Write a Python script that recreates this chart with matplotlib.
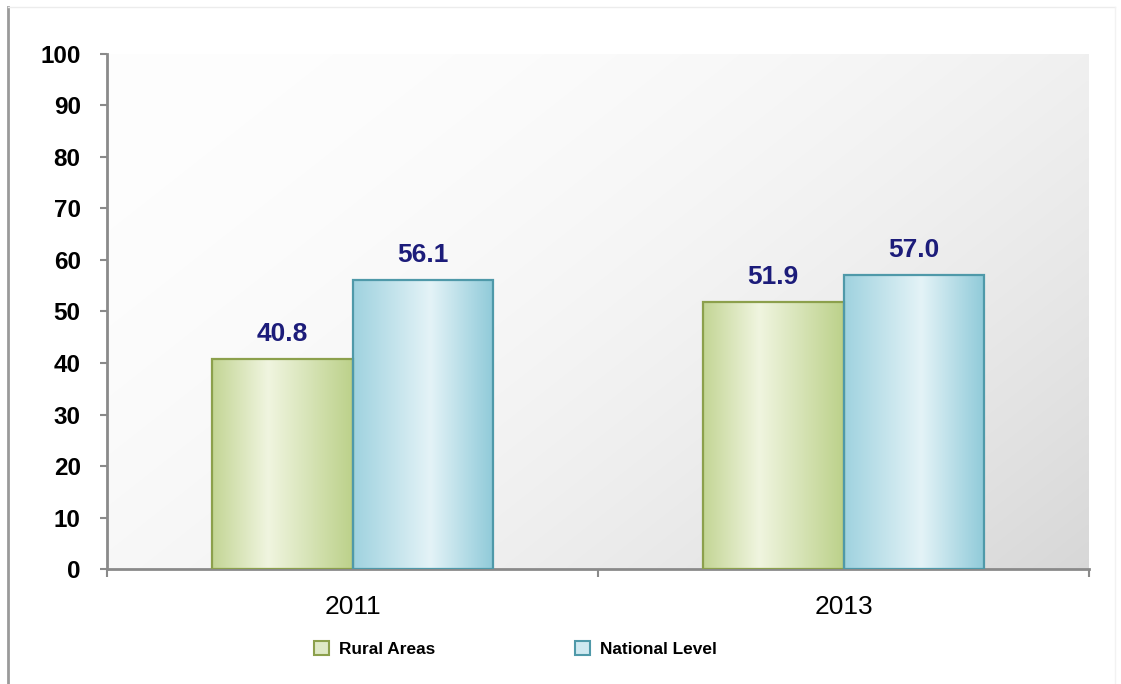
import matplotlib.pyplot as plt
import numpy as np
from matplotlib.colors import LinearSegmentedColormap
from matplotlib.patches import Patch
from matplotlib.lines import Line2D

plt.rcParams['font.family'] = ['Liberation Sans', 'DejaVu Sans']

years = ['2011', '2013']
rural = [40.8, 51.9]
national = [56.1, 57.0]
series_names = ['Rural Areas', 'National Level']

green_cmap = LinearSegmentedColormap.from_list(
    'green_bar', [(0, '#c3d594'), (0.4, '#f0f5e0'), (1, '#bcd18a')])
blue_cmap = LinearSegmentedColormap.from_list(
    'blue_bar', [(0, '#9fd2df'), (0.55, '#e4f3f7'), (1, '#8fcad9')])

fig = plt.figure(figsize=(11.21, 6.84), dpi=100)
ax = fig.add_axes([0.0955, 0.1681, 0.8760, 0.7530])

x = np.arange(len(years))
width = 0.286

# plot background: near white top-left, darkening towards bottom-right
# (rows run top to bottom with origin='upper')
gx, gy = np.meshgrid(np.linspace(0, 1, 300), np.linspace(0, 1, 200))
shade = (gx * 0.6 + gy * 0.4) ** 2
bg = 0.995 - 0.15 * shade
ax.imshow(np.dstack([bg, bg, bg]), extent=[-0.5, 1.5, 0, 100],
          origin='upper', aspect='auto', zorder=0, interpolation='bilinear')

bars_r = ax.bar(x - width / 2, rural, width, facecolor='none',
                edgecolor='#8ca04c', linewidth=1.6, zorder=3)
bars_n = ax.bar(x + width / 2, national, width, facecolor='none',
                edgecolor='#4f99a9', linewidth=1.6, zorder=3)

# horizontal gradient fill inside each bar
grad = np.linspace(0, 1, 256).reshape(1, -1)
for bars, cmap in [(bars_r, green_cmap), (bars_n, blue_cmap)]:
    for b in bars:
        bx, by = b.get_x(), b.get_y()
        bw, bh = b.get_width(), b.get_height()
        ax.imshow(grad, cmap=cmap, extent=[bx, bx + bw, by, by + bh],
                  aspect='auto', zorder=2, interpolation='bilinear')
        ax.annotate(f'{bh:.1f}', (bx + bw / 2, bh), xytext=(0, 13),
                    textcoords='offset points', ha='center', va='baseline',
                    fontsize=19, fontweight='bold', color='#1c1c7a', zorder=4)

ax.set_xlim(-0.5, 1.5)
ax.set_ylim(0, 100)

ax.spines['top'].set_visible(False)
ax.spines['right'].set_visible(False)
for s in ['left', 'bottom']:
    ax.spines[s].set_color('#8a8a8a')
    ax.spines[s].set_linewidth(2)

ax.set_yticks(np.arange(0, 101, 10))
ax.tick_params(axis='y', length=5, width=1.5, color='#8a8a8a', pad=14,
               labelsize=17.5)
for lbl in ax.get_yticklabels():
    lbl.set_fontweight('bold')

ax.set_xticks(x)
ax.set_xticklabels(years, fontsize=19)
ax.tick_params(axis='x', which='major', length=0, pad=19)
ax.set_xticks([-0.5, 0.5, 1.5], minor=True)
ax.tick_params(axis='x', which='minor', length=6, width=1.5, color='#8a8a8a')

handles = [Patch(facecolor='#dfe9c6', edgecolor='#8ca04c', linewidth=1.5),
           Patch(facecolor='#cfe9f1', edgecolor='#4f99a9', linewidth=1.5)]
leg = fig.legend(handles, series_names, loc='center', ncol=2,
                 bbox_to_anchor=(0.4599, 0.0512), frameon=False,
                 borderpad=0, handlelength=0.87, handleheight=0.87,
                 handletextpad=0.58, columnspacing=8.1,
                 prop={'size': 12.4, 'weight': 'bold'})

# outer frame lines
fig.add_artist(Line2D([8 / 1121, 8 / 1121], [0, 1 - 7 / 684],
                      transform=fig.transFigure, color='#9a9a9a', lw=2))
fig.add_artist(Line2D([8 / 1121, 1115 / 1121], [1 - 7 / 684, 1 - 7 / 684],
                      transform=fig.transFigure, color='#ececec', lw=1))
fig.add_artist(Line2D([1115 / 1121, 1115 / 1121], [0, 1 - 7 / 684],
                      transform=fig.transFigure, color='#f2f2f2', lw=1))

fig.savefig('out.png', dpi=100)
